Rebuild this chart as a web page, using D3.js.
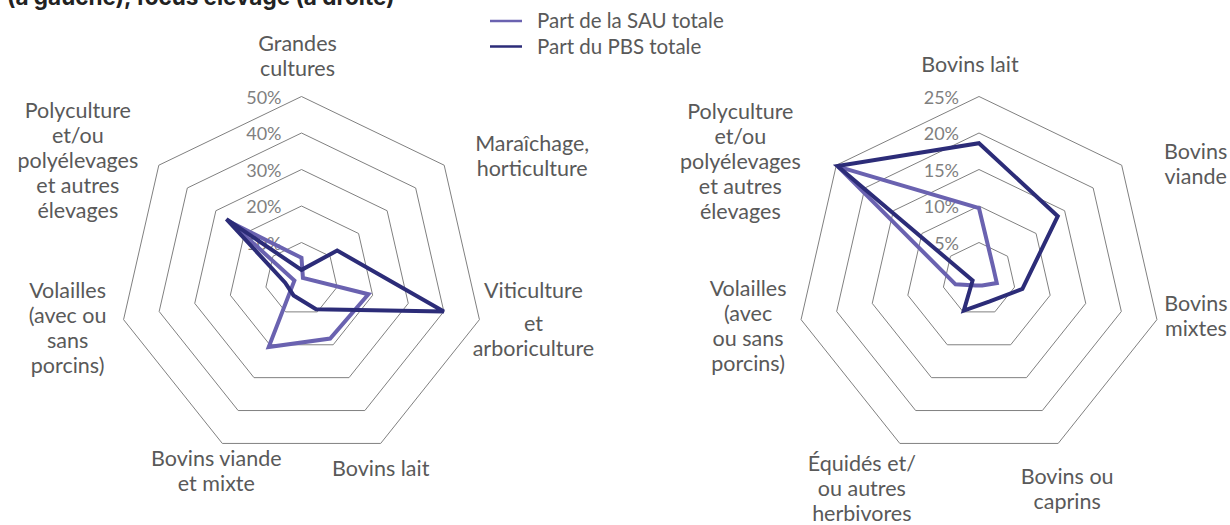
<!DOCTYPE html>
<html>
<head>
<meta charset="utf-8">
<script src="https://cdn.jsdelivr.net/npm/d3@7"></script>
<style>
  body { margin: 0; background: #fff; }
  svg { display: block; }
  .lbl { font-family: Lato, sans-serif; font-size: 21.5px; fill: #595959; }
  .tick { font-family: Lato, sans-serif; font-size: 18px; fill: #7f7f7f; }
  .legend { font-family: Lato, sans-serif; font-size: 20.5px; fill: #595959; }
  .title { font-family: Inter, sans-serif; font-size: 22.5px; font-weight: 700; fill: #222; }
</style>
</head>
<body>
<svg id="chart" width="1230" height="525"></svg>
<script>
// DATA ------------------------------
const seriesNames = ["Part de la SAU totale", "Part du PBS totale"];

// left radar : toutes orientations
const leftAxes = [
  ["Grandes", "cultures"],
  ["Maraîchage,", "horticulture"],
  ["Viticulture", "et", "arboriculture"],
  ["Bovins lait"],
  ["Bovins viande", "et mixte"],
  ["Volailles", "(avec ou", "sans", "porcins)"],
  ["Polyculture", "et/ou", "polyélevages", "et autres", "élevages"]
];
const leftSAU = [5.8, 0.5, 18.8, 18.1, 20.7, 2.0, 25.0];
const leftPBS = [2.5, 12.5, 40.0, 9.2, 5.0, 4.6, 26.3];
const leftTicks = [10, 20, 30, 40, 50];

// right radar : focus élevage
const rightAxes = [
  ["Bovins lait"],
  ["Bovins", "viande"],
  ["Bovins", "mixtes"],
  ["Bovins ou", "caprins"],
  ["Équidés et/", "ou autres", "herbivores"],
  ["Volailles", "(avec", "ou sans", "porcins)"],
  ["Polyculture", "et/ou", "polyélevages", "et autres", "élevages"]
];
const rightSAU = [9.7, 2.5, 2.5, 1.0, 1.0, 3.3, 24.7];
const rightPBS = [18.6, 13.8, 6.1, 3.4, 4.8, 0.9, 24.8];
const rightTicks = [5, 10, 15, 20, 25];

// LAYOUT ------------------------------
const colors = ["#6a62b0", "#2c2c78"];
const R = 182.5;
const lineH = 25;

// label offsets (from vertex, to center x / first baseline)
const leftLabelPos = [[-4, -46], [88, -14], [54, -22], [0, 33], [-6, 23], [-56, -22], [-81, -47]];
const leftLineGaps = [null, null, [0, 33, 25], null, null, null, null];
const rightLabelPos = [[-9, -25], [74, -6], [39, -9], [9, 41], [-38, 28], [-53, -24], [-96, -46]];

const svg = d3.select("#chart");

svg.append("text")
  .attr("class", "title")
  .attr("x", 7)
  .attr("y", 5)
  .text("(à gauche), focus élevage (à droite)");

// legend
const legend = svg.append("g").attr("transform", "translate(490, 21)");
seriesNames.forEach((name, i) => {
  legend.append("line")
    .attr("x1", 0).attr("x2", 32)
    .attr("y1", i * 25.5).attr("y2", i * 25.5)
    .attr("stroke", colors[i])
    .attr("stroke-width", 2.5);
  legend.append("text")
    .attr("class", "legend")
    .attr("x", 47)
    .attr("y", i * 25.5 + 7)
    .text(name);
});

function radar(cx, cy, axes, series, ticks, labelPos, lineGaps) {
  const n = axes.length;
  const maxV = d3.max(ticks);
  const r = d3.scaleLinear().domain([0, maxV]).range([0, R]);
  const angle = d3.scaleLinear().domain([0, n]).range([0, 2 * Math.PI]);

  const g = svg.append("g").attr("transform", `translate(${cx}, ${cy})`);

  const radial = d3.lineRadial()
    .angle((d, i) => angle(i))
    .radius(d => r(d))
    .curve(d3.curveLinearClosed);

  // grid rings
  g.selectAll(".ring")
    .data(ticks)
    .enter()
    .append("path")
    .attr("class", "ring")
    .attr("d", t => radial(d3.range(n).map(() => t)))
    .attr("fill", "none")
    .attr("stroke", "#808080")
    .attr("stroke-width", 1);

  // tick labels
  g.selectAll(".tick")
    .data(ticks)
    .enter()
    .append("text")
    .attr("class", "tick")
    .attr("text-anchor", "end")
    .attr("x", -20)
    .attr("y", t => -r(t) + 7)
    .text(t => t + "%");

  // series
  series.forEach((vals, i) => {
    g.append("path")
      .attr("d", radial(vals))
      .attr("fill", "none")
      .attr("stroke", colors[i])
      .attr("stroke-width", 4)
      .attr("stroke-linejoin", "miter");
  });

  // axis labels
  axes.forEach((lines, k) => {
    const a = angle(k);
    const vx = Math.sin(a) * R, vy = -Math.cos(a) * R;
    const t = g.append("text")
      .attr("class", "lbl")
      .attr("text-anchor", "middle")
      .attr("x", vx + labelPos[k][0])
      .attr("y", vy + labelPos[k][1]);
    const gaps = lineGaps && lineGaps[k];
    lines.forEach((s, j) => {
      t.append("tspan")
        .attr("x", vx + labelPos[k][0])
        .attr("dy", j === 0 ? 0 : (gaps ? gaps[j] : lineH))
        .text(s);
    });
  });
}

radar(301.5, 279, leftAxes, [leftSAU, leftPBS], leftTicks, leftLabelPos, leftLineGaps);
radar(979, 279, rightAxes, [rightSAU, rightPBS], rightTicks, rightLabelPos, null);
</script>
</body>
</html>
